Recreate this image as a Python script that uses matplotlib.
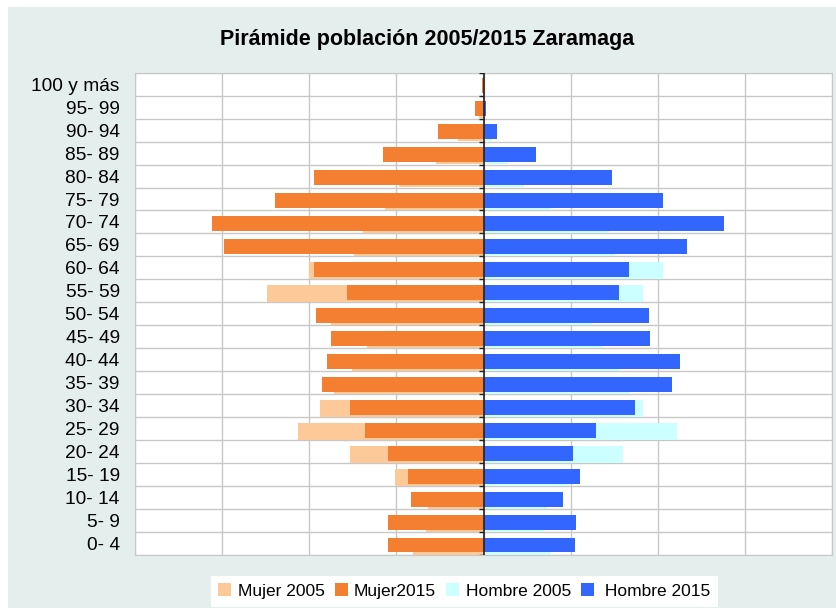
import matplotlib.pyplot as plt
import numpy as np
from matplotlib.patches import Rectangle

plt.rcParams['font.family'] = ['Liberation Sans', 'DejaVu Sans']

grupos = ['0- 4', '5- 9', '10- 14', '15- 19', '20- 24', '25- 29', '30- 34',
          '35- 39', '40- 44', '45- 49', '50- 54', '55- 59', '60- 64', '65- 69',
          '70- 74', '75- 79', '80- 84', '85- 89', '90- 94', '95- 99', '100 y más']
mujer_2005 = [162, 132, 127, 203, 306, 426, 375, 343, 302, 268, 350, 497, 400,
              297, 276, 226, 193, 110, 58, 10, 2]
mujer_2015 = [219, 219, 166, 173, 219, 272, 306, 371, 359, 350, 385, 313, 389,
              596, 624, 479, 389, 231, 104, 19, 3]
hombre_2005 = [156, 140, 146, 197, 321, 445, 367, 337, 312, 271, 250, 367, 413,
               303, 287, 156, 94, 57, 20, 3, 0]
hombre_2015 = [209, 213, 183, 222, 206, 259, 347, 432, 452, 383, 379, 312, 333,
               466, 553, 413, 296, 121, 31, 6, 0]

fig = plt.figure(figsize=(8.36, 6.08), dpi=100)
fig.patches.append(Rectangle((8 / 836, 0), 1, 1 - 7 / 608, transform=fig.transFigure,
                             facecolor='#E4EEEC', edgecolor='none', zorder=-10))
ax = fig.add_axes([135 / 836, 1 - 555 / 608, 697 / 836, 482.3 / 608])
ax.set_facecolor('white')

y = np.arange(len(grupos))
ax.barh(y - 0.11, -np.array(mujer_2005), height=0.74, color='#FDC998', label='Mujer 2005', zorder=2)
ax.barh(y - 0.065, -np.array(mujer_2015), height=0.65, color='#F47F30', label='Mujer2015', zorder=3)
ax.barh(y - 0.11, hombre_2005, height=0.74, color='#CCFFFF', label='Hombre 2005', zorder=2)
ax.barh(y - 0.065, hombre_2015, height=0.65, color='#3366FF', label=' Hombre 2015', zorder=3)

ax.set_xlim(-800, 800)
ax.set_ylim(-0.5, len(grupos) - 0.5)
ax.set_xticks(np.arange(-800, 801, 200))
ax.set_xticklabels([])
ax.set_yticks(y)
ax.set_yticklabels(grupos, fontsize=13.8)
ax.set_yticks(np.arange(-0.5, len(grupos), 1), minor=True)
ax.tick_params(axis='both', which='both', length=0, pad=11)
ax.grid(axis='x', which='major', color='#C8C8C8', lw=1, zorder=0)
ax.grid(axis='y', which='minor', color='#C8C8C8', lw=1, zorder=0)
for s in ax.spines.values():
    s.set_color('#C8C8C8')

ax.axvline(0, color='#222222', lw=1.2, zorder=4)
ax.hlines(np.arange(-0.5, len(grupos), 1), -10, 0, color='#222222', lw=1, zorder=4)

fig.text(427 / 836, 1 - 39 / 608, 'Pirámide población 2005/2015 Zaramaga',
         ha='center', va='center', fontsize=15.5, fontweight='bold')

leg = fig.legend(loc='lower center', bbox_to_anchor=(464.5 / 836, -0.012), ncol=4,
                 fontsize=12.5, frameon=True, fancybox=False, handlelength=0.75,
                 handleheight=0.75, handletextpad=0.35, columnspacing=0.6,
                 borderpad=0.45)
leg.get_frame().set_facecolor('white')
leg.get_frame().set_edgecolor('none')
leg.get_frame().set_alpha(1)

plt.savefig('out.png', dpi=100)
